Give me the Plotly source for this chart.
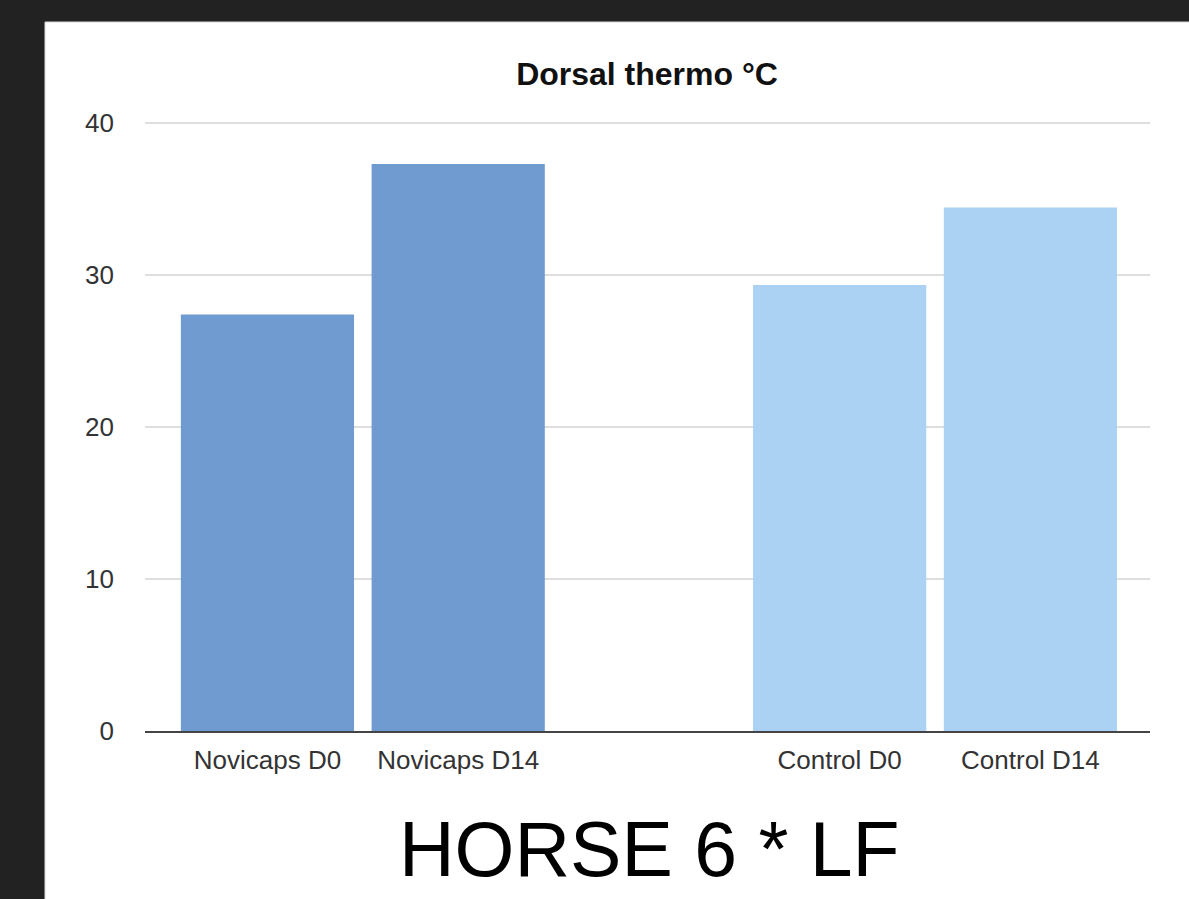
import plotly.graph_objects as go

# ---- data ----
categories = ["Novicaps D0", "Novicaps D14", " ", "Control D0", "Control D14"]
novicaps_labels = ["Novicaps D0", "Novicaps D14"]
novicaps_values = [27.4, 37.3]
control_labels = ["Control D0", "Control D14"]
control_values = [29.35, 34.45]
y_ticks = [0, 10, 20, 30, 40]
chart_title = "Dorsal thermo °C"
caption = "HORSE 6 * LF"

W, H = 1189, 899
L, R, T, B = 145, 1189 - 1150, 120, 899 - 731
pw, ph = W - L - R, H - T - B

def px(x):
    return (x - L) / pw

def py(y):
    return (H - B - y) / ph

FONT = "Liberation Sans, Arial, Helvetica, sans-serif"

fig = go.Figure()
fig.add_trace(go.Bar(x=novicaps_labels, y=novicaps_values, marker=dict(color="#6f9bd1", line=dict(width=0)),
                     showlegend=False, hoverinfo="x+y"))
fig.add_trace(go.Bar(x=control_labels, y=control_values, marker=dict(color="#abd1f3", line=dict(width=0)),
                     showlegend=False, hoverinfo="x+y"))

fig.update_layout(
    width=W, height=H,
    margin=dict(l=L, r=R, t=T, b=B, pad=0),
    paper_bgcolor="#222222",
    plot_bgcolor="rgba(0,0,0,0)",
    barmode="overlay",
    bargap=0.092,
    font=dict(family=FONT, color="#333333"),
    title=dict(text="<b>" + chart_title + "</b>", xref="container", yref="container",
               x=647 / W, y=1 - 74 / H, xanchor="center", yanchor="middle",
               font=dict(size=32, color="#111111", family=FONT)),
    xaxis=dict(type="category", categoryorder="array", categoryarray=categories,
               range=[-0.642, 4.627], showgrid=False, zeroline=False,
               showline=True, linecolor="#444444", linewidth=2, layer="above traces",
               ticks="", tickfont=dict(size=26, color="#333333"), ticklabelstandoff=5),
    yaxis=dict(range=[0, 40.2], tickvals=y_ticks, showgrid=True, gridcolor="#dedede", gridwidth=2,
               zeroline=False, showline=False, ticks="",
               tickfont=dict(size=26, color="#333333"), ticklabelstandoff=30),
    shapes=[dict(type="rect", xref="paper", yref="paper", layer="below",
                 x0=px(45), x1=px(1189 + 5), y0=py(899 + 5), y1=py(22),
                 fillcolor="white", line=dict(color="#d8d8d8", width=1))],
    annotations=[dict(text=caption, xref="paper", yref="paper", x=px(649), y=py(849),
                      xanchor="center", yanchor="middle", showarrow=False,
                      font=dict(size=77, color="#000000", family=FONT))],
)

fig.write_html("out.html", config={"displayModeBar": False},
               post_script="document.body.style.margin='0px';document.body.style.overflow='hidden';")
